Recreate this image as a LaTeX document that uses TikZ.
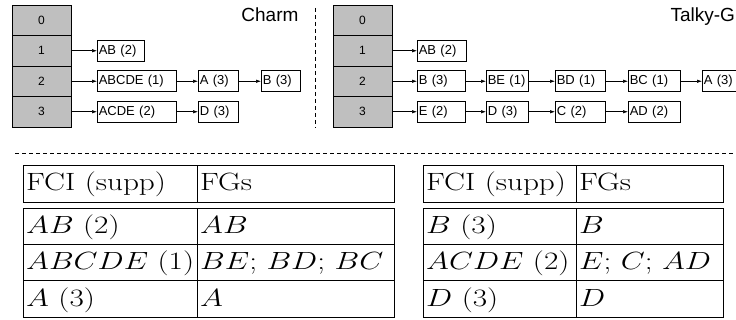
\documentclass[tikz,border=0pt]{standalone}
\usepackage{fontspec}
\usepackage{graphicx}
\setsansfont{Liberation Sans}
\usetikzlibrary{arrows.meta}
\newcommand{\stretchx}[1]{\scalebox{1.25}[1]{#1}}

\begin{document}
\begin{tikzpicture}[x=1pt,y=-1pt,
    slot/.style={draw,fill=gray!50,line width=0.6pt,minimum width=59pt,minimum height=30.5pt,inner sep=0pt,font=\sffamily\fontsize{12}{12}\selectfont},
    item/.style={draw,anchor=west,line width=0.6pt,minimum height=21pt,inner xsep=1.5pt,inner ysep=0pt,align=left,text width=#1,font=\sffamily\fontsize{13}{14}\selectfont},
    link/.style={-{Latex[length=5pt,width=3.5pt]},line width=0.6pt},
    cell/.style={anchor=base west,inner sep=0pt,font=\fontsize{25}{28}\selectfont},
    frame/.style={line width=0.8pt}]
\useasboundingbox (0,0) rectangle (736,320);

% Charm
\foreach \i/\y in {0/20.25,1/50.75,2/81.25,3/111.75}
    \node[slot] (L\i) at (41.5,\y) {\i};
\node[item=44pt] (la) at (97,50.75) {AB (2)};
\node[item=76pt] (lb1) at (97,81.25) {ABCDE (1)};
\node[item=37pt] (lb2) at (198,81.25) {A (3)};
\node[item=36pt] (lb3) at (261,81.25) {B (3)};
\node[item=76pt] (lc1) at (97,111.75) {ACDE (2)};
\node[item=37pt] (lc2) at (198,111.75) {D (3)};
\draw[link] (L1) -- (la);
\draw[link] (L2) -- (lb1);
\draw[link] (lb1) -- (lb2);
\draw[link] (lb2) -- (lb3);
\draw[link] (L3) -- (lc1);
\draw[link] (lc1) -- (lc2);
\node[anchor=base east,font=\sffamily\fontsize{19}{19}\selectfont] (charm) at (302,22) {Charm};

\draw[dashed,dash pattern=on 4pt off 3pt,line width=0.6pt] (315,8) -- (315,128);

% Talky-G
\foreach \i/\y in {0/20.25,1/50.75,2/81.25,3/111.75}
    \node[slot] (R\i) at (362.5,\y) {\i};
\node[item=46pt] (ra) at (417,50.75) {AB (2)};
\node[item=45pt] (rb1) at (417,81.25) {B (3)};
\node[item=39pt] (rb2) at (486,81.25) {BE (1)};
\node[item=47pt] (rb3) at (555,81.25) {BD (1)};
\node[item=49pt] (rb4) at (628,81.25) {BC (1)};
\node[item=37pt] (rb5) at (702,81.25) {A (3)};
\node[item=45pt] (rc1) at (417,111.75) {E (2)};
\node[item=39pt] (rc2) at (486,111.75) {D (3)};
\node[item=47pt] (rc3) at (555,111.75) {C (2)};
\node[item=49pt] (rc4) at (628,111.75) {AD (2)};
\draw[link] (R1) -- (ra);
\draw[link] (R2) -- (rb1);
\draw[link] (rb1) -- (rb2);
\draw[link] (rb2) -- (rb3);
\draw[link] (rb3) -- (rb4);
\draw[link] (rb4) -- (rb5);
\draw[link] (R3) -- (rc1);
\draw[link] (rc1) -- (rc2);
\draw[link] (rc2) -- (rc3);
\draw[link] (rc3) -- (rc4);
\node[anchor=base west,font=\sffamily\fontsize{19}{19}\selectfont] (talky) at (667,22) {Talky-G};

\draw[dashed,dash pattern=on 4pt off 3pt,line width=0.6pt] (15,153) -- (736,153);

% tables
\draw[frame] (23,165.5) rectangle (394,202) (197,165.5) -- (197,202);
\draw[frame] (23,208.5) rectangle (394,317) (197,208.5) -- (197,317)
    (23,244) -- (394,244) (23,280.5) -- (394,280.5);
\draw[frame] (423,165.5) rectangle (723,202) (576,165.5) -- (576,202);
\draw[frame] (423,208.5) rectangle (723,317) (576,208.5) -- (576,317)
    (423,244) -- (723,244) (423,280.5) -- (723,280.5);

\node[cell] (ah1) at (26,191) {\stretchx{FCI (supp)}};
\node[cell] (ah2) at (200,191) {\stretchx{FGs}};
\node[cell] (a11) at (26,234) {\stretchx{$AB$ (2)}};
\node[cell] (a12) at (200,234) {\stretchx{$AB$}};
\node[cell] (a21) at (26,270) {\stretchx{$ABCDE$ (1)}};
\node[cell] (a22) at (200,270) {\stretchx{$BE$; $BD$; $BC$}};
\node[cell] (a31) at (26,306.5) {\stretchx{$A$ (3)}};
\node[cell] (a32) at (200,306.5) {\stretchx{$A$}};

\node[cell] (bh1) at (426,191) {\stretchx{FCI (supp)}};
\node[cell] (bh2) at (579,191) {\stretchx{FGs}};
\node[cell] (b11) at (426,234) {\stretchx{$B$ (3)}};
\node[cell] (b12) at (579,234) {\stretchx{$B$}};
\node[cell] (b21) at (426,270) {\stretchx{$ACDE$ (2)}};
\node[cell] (b22) at (579,270) {\stretchx{$E$; $C$; $AD$}};
\node[cell] (b31) at (426,306.5) {\stretchx{$D$ (3)}};
\node[cell] (b32) at (579,306.5) {\stretchx{$D$}};
\end{tikzpicture}
\end{document}
